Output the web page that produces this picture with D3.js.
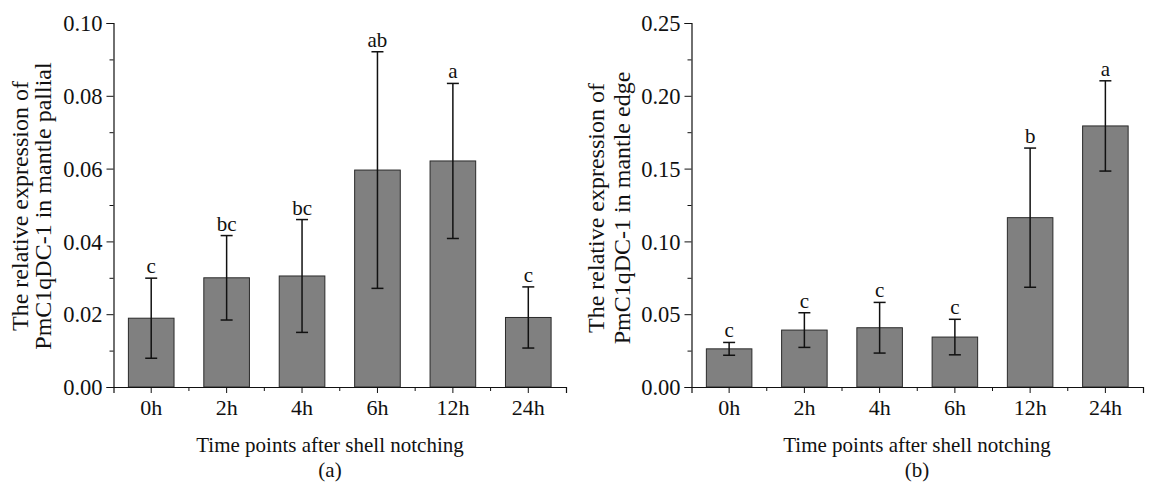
<!DOCTYPE html>
<html><head><meta charset="utf-8">
<script src="https://cdn.jsdelivr.net/npm/d3@7"></script>
<style>
body{margin:0;background:#fff;}
text{font-family:"Liberation Serif","Times New Roman",serif;fill:#111;}
</style></head>
<body><svg id="chart" width="1153" height="485" font-family="Liberation Serif"></svg>
<script>
const categories = ["0h","2h","4h","6h","12h","24h"];
// Panel (a): mantle pallial
const palliaMean = [0.0189, 0.0300, 0.0305, 0.0596, 0.0621, 0.0191];
const palliaErr  = [0.0110, 0.0116, 0.0155, 0.0325, 0.0213, 0.0084];
const palliaSig  = ["c","bc","bc","ab","a","c"];
const palliaTicks = [0, 0.02, 0.04, 0.06, 0.08, 0.10];
// Panel (b): mantle edge
const edgeMean = [0.0262, 0.0391, 0.0407, 0.0343, 0.1163, 0.1793];
const edgeErr  = [0.0044, 0.0119, 0.0174, 0.0122, 0.0478, 0.0310];
const edgeSig  = ["c","c","c","c","b","a"];
const edgeTicks = [0, 0.05, 0.10, 0.15, 0.20, 0.25];

const FONT = "Liberation Serif";
const svg = d3.select("#chart");

function panel(opt){
  const g = svg.append("g");
  const x = d3.scaleBand().domain(categories).range([opt.x0, opt.x1]).paddingInner(0).paddingOuter(0);
  const y = d3.scaleLinear().domain([0, opt.max]).range([opt.y0, opt.y1]);
  const bw = x.bandwidth()*0.605;

  // bars
  g.selectAll("rect.bar").data(opt.mean).enter().append("rect")
    .attr("x",(d,i)=>x(categories[i])+x.bandwidth()/2-bw/2)
    .attr("y",d=>y(d)).attr("width",bw).attr("height",d=>y(0)-y(d))
    .attr("fill","#808080").attr("stroke","#2a2a2a").attr("stroke-width",1);

  // error bars
  const cap = 6;
  opt.mean.forEach((m,i)=>{
    const cx = x(categories[i])+x.bandwidth()/2;
    const hi = y(m+opt.err[i]), lo = y(m-opt.err[i]);
    g.append("line").attr("x1",cx).attr("x2",cx).attr("y1",hi).attr("y2",lo).attr("stroke","#111").attr("stroke-width",1.5);
    g.append("line").attr("x1",cx-cap).attr("x2",cx+cap).attr("y1",hi).attr("y2",hi).attr("stroke","#111").attr("stroke-width",1.5);
    g.append("line").attr("x1",cx-cap).attr("x2",cx+cap).attr("y1",lo).attr("y2",lo).attr("stroke","#111").attr("stroke-width",1.5);
    g.append("text").attr("x",cx).attr("y",hi-5).attr("text-anchor","middle").attr("font-size",21).text(opt.sig[i]);
  });

  // y axis
  const ya = d3.axisLeft(y).tickValues(opt.ticks).tickFormat(d3.format(".2f")).tickSize(7).tickPadding(4);
  const yg = g.append("g").attr("transform",`translate(${opt.x0},0)`).call(ya);
  yg.attr("font-family",FONT);
  yg.selectAll("text").attr("font-size",22.5).attr("dy","0.34em");
  // minor y ticks
  const step = opt.ticks[1]-opt.ticks[0];
  const minors = opt.ticks.slice(0,-1).map(t=>t+step/2);
  const ym = d3.axisLeft(y).tickValues(minors).tickSize(4).tickFormat("");
  g.append("g").attr("transform",`translate(${opt.x0},0)`).call(ym).select(".domain").remove();

  // x axis
  const xa = d3.axisBottom(x).tickSize(6).tickPadding(5);
  const xg = g.append("g").attr("transform",`translate(0,${opt.y0})`).call(xa);
  xg.attr("font-family",FONT);
  xg.selectAll("text").attr("font-size",22).attr("dy","0.78em");
  // minor x ticks at band boundaries
  const bounds = categories.slice(1).map(c=>x(c));
  const xm = g.append("g").attr("transform",`translate(0,${opt.y0})`);
  xm.selectAll("line").data(bounds).enter().append("line")
    .attr("x1",d=>d).attr("x2",d=>d).attr("y1",0).attr("y2",4).attr("stroke","#111");
  g.selectAll(".domain").attr("stroke","#111").attr("stroke-width",1.2);
  g.selectAll(".tick line").attr("stroke","#111");

  // y title
  const yc = opt.yTitleC;
  g.append("text").attr("transform",`translate(${opt.tx1},${yc}) rotate(-90)`).attr("text-anchor","middle").attr("font-size",24).text("The relative expression of");
  g.append("text").attr("transform",`translate(${opt.tx2},${yc}) rotate(-90)`).attr("text-anchor","middle").attr("font-size",24).text(opt.ytitle2);

  // x title and caption
  const xc = opt.capX;
  g.append("text").attr("x",xc).attr("y",452).attr("text-anchor","middle").attr("font-size",21).text("Time points after shell notching");
  g.append("text").attr("x",xc).attr("y",477).attr("text-anchor","middle").attr("font-size",21).text(opt.caption);
}

panel({x0:113.5,x1:566,y0:387,y1:23,max:0.10,mean:palliaMean,err:palliaErr,sig:palliaSig,ticks:palliaTicks,
  tx1:28,tx2:51,yTitleC:206,ytitle2:"PmC1qDC-1 in mantle pallial",caption:"(a)",capX:330});
panel({x0:691.5,x1:1143,y0:387,y1:23,max:0.25,mean:edgeMean,err:edgeErr,sig:edgeSig,ticks:edgeTicks,
  tx1:604,tx2:630,yTitleC:208,ytitle2:"PmC1qDC-1 in mantle edge",caption:"(b)",capX:917});
</script></body></html>
